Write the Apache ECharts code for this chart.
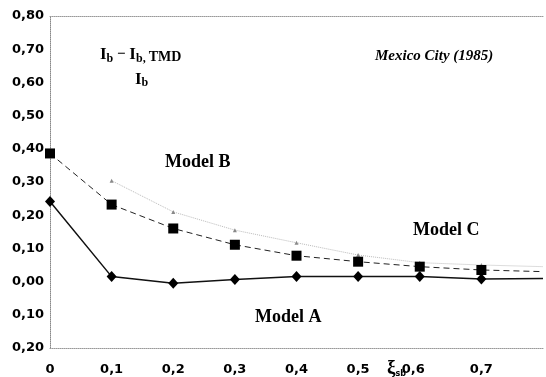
<!DOCTYPE html>
<html><head><meta charset="utf-8">
<script src="https://cdn.jsdelivr.net/npm/echarts@6/dist/echarts.min.js"></script>
<style>html,body{margin:0;padding:0;background:#fff}#c{width:546px;height:377px}</style>
</head><body><div id="c"></div>
<script>
// x positions (damping ratio xi_sb)
const xValues = [0, 0.1, 0.2, 0.3, 0.4, 0.5, 0.6, 0.7];
// Model A (diamonds, solid)
const modelA = [0.241, 0.015, -0.005, 0.006, 0.015, 0.015, 0.015, 0.008];
// Model B (squares, dashed)
const modelB = [0.386, 0.232, 0.160, 0.111, 0.078, 0.060, 0.045, 0.035];
// Model C (faint dotted)
const modelCx = [0.1, 0.2, 0.3, 0.4, 0.5, 0.6, 0.7];
const modelC = [0.304, 0.210, 0.155, 0.117, 0.080, 0.057, 0.050];
// line continuation to right edge
const tailX = 0.8;
const tailA = 0.009, tailB = 0.03, tailC = 0.045;
const seriesNames = ['Model A', 'Model B', 'Model C'];

function fmtY(v){ return Math.abs(v).toFixed(2).replace('.', ','); }
function fmtX(v){
  if (v === 0) return '0';
  if (v > 0.75) return '';
  const s = v.toFixed(1).replace('.', ',');
  if (Math.abs(v - 0.6) < 1e-6) return '{s|' + s + '}';
  return s;
}
function pts(xs, ys, tx, ty){
  const d = xs.map((x, i) => [x, ys[i]]);
  d.push({value: [tx, ty], symbol: 'none'});
  return d;
}

const chart = echarts.init(document.getElementById('c'), null, {renderer: 'canvas'});
const labelFont = {fontFamily: 'DejaVu Sans', fontWeight: 'bold', fontSize: 13, color: '#000'};
const serif = 'Liberation Serif';
chart.setOption({
  animation: false,
  backgroundColor: '#fff',
  grid: {left: 50, right: -16, top: 16, bottom: 29},
  xAxis: [{
    type: 'value', min: 0, max: 0.8, interval: 0.1, position: 'bottom',
    axisLine: {show: true, onZero: false, lineStyle: {color: '#999', type: 'dotted', width: 1}},
    axisTick: {show: false}, splitLine: {show: false},
    axisLabel: Object.assign({margin: 15, formatter: fmtX, rich: {s: Object.assign({padding: [0, 13, 0, 0]}, labelFont)}}, labelFont)
  }, {
    type: 'value', min: 0, max: 0.8, position: 'top',
    axisLine: {show: true, onZero: false, lineStyle: {color: '#999', type: 'dotted', width: 1}},
    axisTick: {show: false}, splitLine: {show: false}, axisLabel: {show: false}
  }],
  yAxis: {
    type: 'value', min: -0.2, max: 0.8, interval: 0.1,
    axisLine: {show: true, onZero: false, lineStyle: {color: '#888', type: 'dotted', width: 1}},
    axisTick: {show: false}, splitLine: {show: false},
    axisLabel: Object.assign({margin: 6, formatter: fmtY}, labelFont)
  },
  series: [{
    name: seriesNames[2], type: 'line', z: 1,
    data: pts(modelCx, modelC, tailX, tailC),
    symbol: 'triangle', symbolSize: 4,
    itemStyle: {color: '#888'},
    lineStyle: {color: '#bbb', width: 1, type: 'dotted'}
  }, {
    name: seriesNames[1], type: 'line', z: 3,
    data: pts(xValues, modelB, tailX, tailB),
    symbol: 'rect', symbolSize: 10,
    itemStyle: {color: '#000'},
    lineStyle: {color: '#222', width: 1, type: [6, 4]}
  }, {
    name: seriesNames[0], type: 'line', z: 4,
    data: pts(xValues, modelA, tailX, tailA),
    symbol: 'diamond', symbolSize: [10, 11],
    itemStyle: {color: '#000'},
    lineStyle: {color: '#111', width: 1.5}
  }],
  graphic: [
    {type: 'text', left: 100, top: 46, style: {
      text: '{i|I}{s|b}{m| − }{i|I}{s|b, }{t|TMD}',
      rich: {
        i: {fontFamily: serif, fontWeight: 'bold', fontSize: 17, fill: '#000'},
        m: {fontFamily: serif, fontWeight: 'bold', fontSize: 15, fill: '#000'},
        s: {fontFamily: serif, fontWeight: 'bold', fontSize: 12, fill: '#000', verticalAlign: 'bottom', padding: [6, 0, 0, 0]},
        t: {fontFamily: serif, fontWeight: 'bold', fontSize: 14, fill: '#000', verticalAlign: 'bottom', padding: [6, 0, 0, 0]}
      }}},
    {type: 'text', left: 135, top: 71, style: {
      text: '{i|I}{s|b}',
      rich: {
        i: {fontFamily: serif, fontWeight: 'bold', fontSize: 17, fill: '#000'},
        s: {fontFamily: serif, fontWeight: 'bold', fontSize: 12, fill: '#000', verticalAlign: 'bottom', padding: [6, 0, 0, 0]}
      }}},
    {type: 'text', left: 375, top: 49, style: {text: 'Mexico City (1985)', font: 'italic bold 15px "Liberation Serif"', fill: '#000'}},
    {type: 'text', left: 165, top: 153, style: {text: 'Model B', font: 'bold 18px "Liberation Serif"', fill: '#000'}},
    {type: 'text', left: 413, top: 221, style: {text: 'Model C', font: 'bold 18px "Liberation Serif"', fill: '#000'}},
    {type: 'text', left: 255, top: 308, style: {text: 'Model A', font: 'bold 18px "Liberation Serif"', fill: '#000'}},
    {type: 'text', left: 387, top: 359, style: {
      text: '{x|ξ}{s|sb}',
      rich: {
        x: {fontFamily: serif, fontWeight: 'bold', fontSize: 19, fill: '#000'},
        s: {fontFamily: 'DejaVu Sans', fontWeight: 'bold', fontSize: 8, fill: '#000', verticalAlign: 'bottom', padding: [7, 0, 0, 0]}
      }}}
  ]
});
</script></body></html>
